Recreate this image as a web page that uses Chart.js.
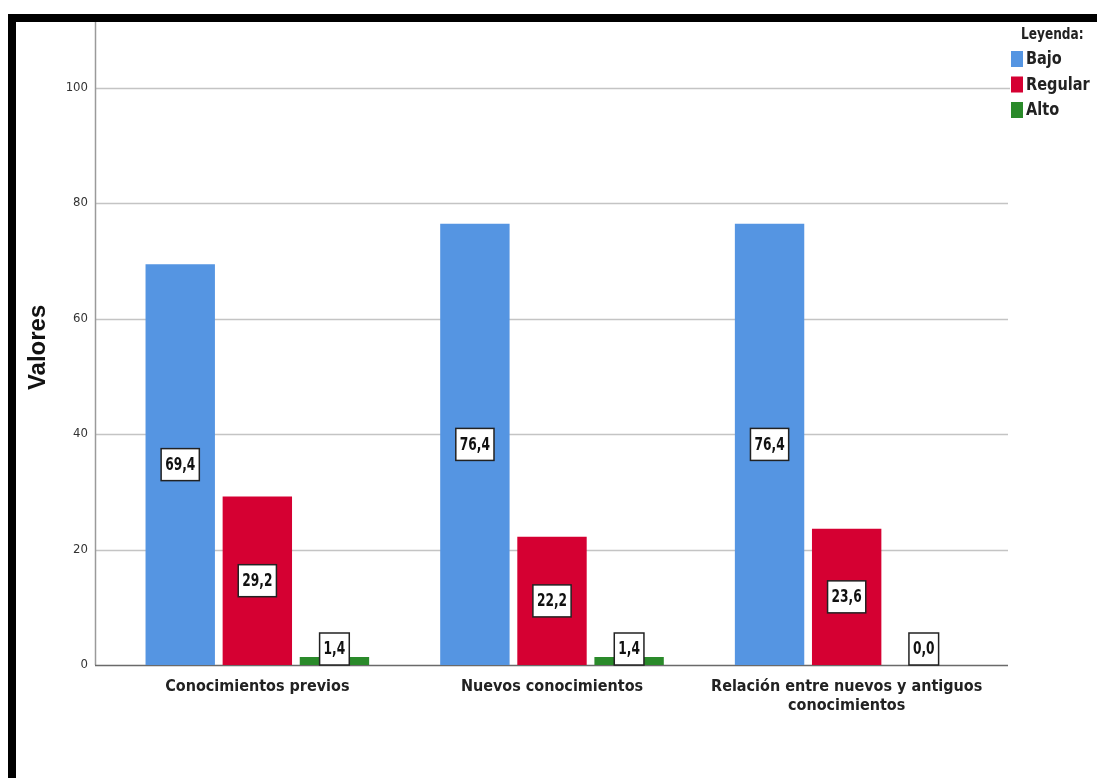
<!DOCTYPE html>
<html>
<head>
<meta charset="utf-8">
<script src="https://cdn.jsdelivr.net/npm/chart.js@4.4.0/dist/chart.umd.min.js"></script>
<style>
	html, body { margin: 0; padding: 0; background: #fff; }
	#wrap { position: relative; width: 1097px; height: 778px; }
	#frame { position: absolute; left: 8px; top: 14px; right: 0; bottom: 0; border-top: 8px solid #000; border-left: 8px solid #000; pointer-events: none; }
</style>
</head>
<body>
<div id="wrap">
	<canvas id="bar-canvas" width="1097" height="778"></canvas>
	<div id="frame"></div>
</div>
<script>
var categories = ['Conocimientos previos', 'Nuevos conocimientos', ['Relación entre nuevos y antiguos', 'conocimientos']];
var seriesNames = ['Bajo', 'Regular', 'Alto'];
var bajo = [69.4, 76.4, 76.4];
var regular = [29.2, 22.2, 23.6];
var alto = [1.4, 1.4, 0.0];
var yTicks = [0, 20, 40, 60, 80, 100];

var colors = ['#5595e2', '#d50032', '#2a8a2a'];
var narrow = '"Liberation Sans Narrow", "DejaVu Sans Condensed", Arial, sans-serif';

// draw text squeezed sideways, the original uses a narrow font
function narrowText(ctx, txt, x, y, sx) {
	ctx.save();
	ctx.translate(x, y);
	ctx.scale(sx, 1);
	ctx.fillText(txt, 0, 0);
	ctx.restore();
}

// gridlines reach a bit past the bars on both sides, like the original
var gridPlugin = {
	id: 'extGrid',
	beforeDatasetsDraw: function(chart) {
		var ctx = chart.ctx, a = chart.chartArea, y = chart.scales.y;
		var x0 = a.left - 15, x1 = a.right + 14;
		ctx.save();
		ctx.lineWidth = 1.5;
		ctx.strokeStyle = '#c4c4c4';
		yTicks.forEach(function(v) {
			if (v === 0) return;
			var py = Math.round(y.getPixelForValue(v)) + 0.5;
			ctx.beginPath(); ctx.moveTo(x0, py); ctx.lineTo(v === 100 ? x1 + 2 : x1, py); ctx.stroke();
		});
		ctx.strokeStyle = '#9a9a9a';
		ctx.beginPath(); ctx.moveTo(x0 + 0.5, 22); ctx.lineTo(x0 + 0.5, y.getPixelForValue(0)); ctx.stroke();
		ctx.strokeStyle = '#6a6a6a';
		var zy = Math.round(y.getPixelForValue(0)) + 0.5;
		ctx.beginPath(); ctx.moveTo(x0, zy); ctx.lineTo(x1, zy); ctx.stroke();
		ctx.restore();
	}
};

// boxed value labels and the legend
var labelPlugin = {
	id: 'boxLabels',
	afterDatasetsDraw: function(chart) {
		var ctx = chart.ctx;
		var zeroY = chart.scales.y.getPixelForValue(0);
		var sx = 0.8;
		ctx.save();
		ctx.font = 'bold 17px ' + narrow;
		ctx.textAlign = 'center';
		ctx.textBaseline = 'middle';
		chart.data.datasets.forEach(function(ds, i) {
			chart.getDatasetMeta(i).data.forEach(function(bar, j) {
				var txt = ds.data[j].toFixed(1).replace('.', ',');
				var w = ctx.measureText(txt).width * sx + 8, h = 32;
				var cy = Math.min((bar.y + zeroY) / 2, zeroY - h / 2);
				ctx.fillStyle = '#fff';
				ctx.fillRect(bar.x - w / 2, cy - h / 2, w, h);
				ctx.lineWidth = 1.5;
				ctx.strokeStyle = '#222';
				ctx.strokeRect(bar.x - w / 2, cy - h / 2, w, h);
				ctx.fillStyle = '#111';
				narrowText(ctx, txt, bar.x, cy + 1, sx);
			});
		});

		// legend
		ctx.textAlign = 'left';
		ctx.fillStyle = '#222';
		ctx.font = 'bold 15px ' + narrow;
		narrowText(ctx, 'Leyenda:', 1021, 35, 0.9);
		ctx.font = 'bold 17px ' + narrow;
		chart.data.datasets.forEach(function(ds, i) {
			var cy = 59 + i * 25.5;
			ctx.fillStyle = ds.backgroundColor;
			ctx.fillRect(1011, cy - 8, 12, 16);
			ctx.fillStyle = '#222';
			narrowText(ctx, ds.label, 1026, cy + 1, 0.95);
		});
		ctx.restore();
	}
};

var canvas = document.querySelector('#bar-canvas');

new Chart(canvas, {
	type: 'bar',
	data: {
		labels: categories,
		datasets: [
			{ label: seriesNames[0], data: bajo, backgroundColor: colors[0] },
			{ label: seriesNames[1], data: regular, backgroundColor: colors[1] },
			{ label: seriesNames[2], data: alto, backgroundColor: colors[2] }
		]
	},
	options: {
		responsive: false,
		animation: false,
		categoryPercentage: 0.785,
		barPercentage: 0.9,
		layout: { padding: { top: 17, right: 103, bottom: 0, left: 0 } },
		plugins: { legend: { display: false }, tooltip: { enabled: false } },
		datasets: { bar: { borderWidth: 0 } },
		scales: {
			x: {
				grid: { display: false, drawTicks: false },
				border: { display: false },
				ticks: { color: '#222', padding: 13, maxRotation: 0, autoSkip: false, font: { family: narrow, size: 16, weight: 'bold', lineHeight: 1.15 } },
				afterFit: function(s) { s.height = 113; }
			},
			y: {
				min: 0,
				max: 110,
				grid: { display: false, drawTicks: false },
				border: { display: false },
				afterBuildTicks: function(s) { s.ticks = yTicks.map(function(v) { return { value: v }; }); },
				ticks: { color: '#333', padding: 22, font: { family: narrow, size: 13 } },
				title: { display: true, text: 'Valores', color: '#111', padding: { top: 24, bottom: 0 }, font: { family: 'Arial, "Liberation Sans", sans-serif', size: 24, weight: 'bold' } },
				afterFit: function(s) { s.width = 110; }
			}
		}
	},
	plugins: [gridPlugin, labelPlugin]
});
</script>
</body>
</html>
